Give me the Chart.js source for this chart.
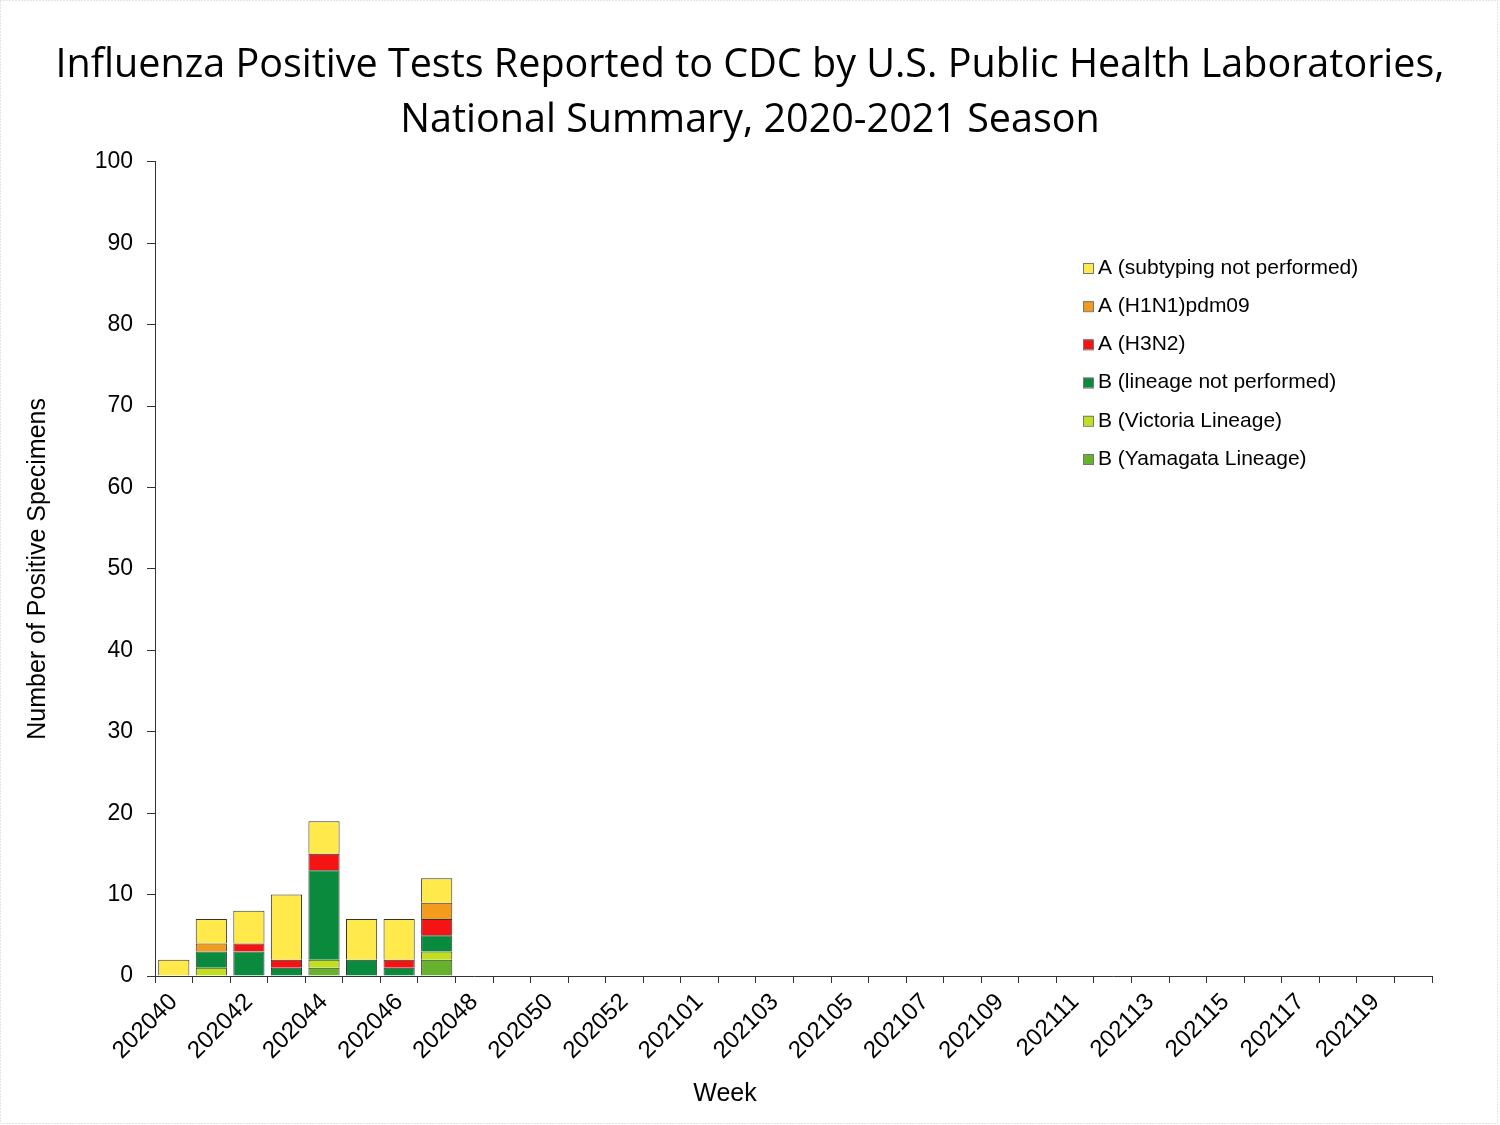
<!DOCTYPE html>
<html>
<head>
<meta charset="utf-8">
<script src="https://cdn.jsdelivr.net/npm/chart.js@4"></script>
<style>
  html, body { margin: 0; padding: 0; background: #fff; }
  #wrap { width: 1500px; height: 1125px; }
</style>
</head>
<body>
<div id="wrap"><canvas id="myChart" width="1500" height="1125"></canvas></div>
<script>
// weeks 202040 .. 202053, 202101 .. 202120
var weeks = ['202040','202041','202042','202043','202044','202045','202046','202047','202048','202049','202050','202051','202052','202053',
             '202101','202102','202103','202104','202105','202106','202107','202108','202109','202110','202111','202112','202113','202114',
             '202115','202116','202117','202118','202119','202120'];

// counts per week (only the first 8 weeks reported so far)
var yamagata    = [0, 0, 0, 0, 1, 0, 0, 2];
var victoria    = [0, 1, 0, 0, 1, 0, 0, 1];
var bNotDone    = [0, 2, 3, 1, 11, 2, 1, 2];
var h3n2        = [0, 0, 1, 1, 2, 0, 1, 2];
var h1n1pdm09   = [0, 1, 0, 0, 0, 0, 0, 2];
var aNotSubtyped = [2, 3, 4, 8, 4, 5, 5, 3];

var yTicks = [0, 10, 20, 30, 40, 50, 60, 70, 80, 90, 100];

var series = [
    { label: 'B (Yamagata Lineage)', data: yamagata, color: '#66b22c' },
    { label: 'B (Victoria Lineage)', data: victoria, color: '#c2df1f' },
    { label: 'B (lineage not performed)', data: bNotDone, color: '#0a8a3c' },
    { label: 'A (H3N2)', data: h3n2, color: '#f51414' },
    { label: 'A (H1N1)pdm09', data: h1n1pdm09, color: '#f29b1d' },
    { label: 'A (subtyping not performed)', data: aNotSubtyped, color: '#ffe94b' }
];

var font = '"Liberation Sans", Arial, sans-serif';

var extras = {
    id: 'extras',
    afterDraw: function (chart) {
        var ctx = chart.ctx;
        ctx.save();
        // dotted frame round the picture
        ctx.strokeStyle = '#c8c8c8';
        ctx.setLineDash([1, 2]);
        ctx.lineWidth = 1;
        ctx.strokeRect(0.5, 0.5, 1497, 1123);
        ctx.setLineDash([]);
        // x axis title sits left of the plot centre in the original
        ctx.fillStyle = '#000';
        ctx.font = '25px ' + font;
        ctx.textAlign = 'center';
        ctx.textBaseline = 'middle';
        ctx.fillText('Week', 725, 1094);
        // legend, top entry is the last dataset
        var ds = chart.data.datasets.slice().reverse();
        ctx.font = '21px ' + font;
        ctx.textAlign = 'left';
        ds.forEach(function (d, i) {
            var y = 268 + i * 38.2;
            ctx.fillStyle = d.backgroundColor;
            ctx.fillRect(1083, y - 5, 10, 10);
            ctx.strokeStyle = '#777';
            ctx.strokeRect(1083.5, y - 4.5, 10, 10);
            ctx.fillStyle = '#000';
            ctx.fillText(d.label, 1098, y);
        });
        ctx.restore();
    }
};

var ctx = document.getElementById('myChart').getContext('2d');
new Chart(ctx, {
    type: 'bar',
    data: {
        labels: weeks,
        datasets: series.map(s => ({
            label: s.label,
            data: s.data,
            backgroundColor: s.color,
            borderColor: '#333',
            borderWidth: 1,
            barPercentage: 0.83,
            categoryPercentage: 1.0
        }))
    },
    options: {
        responsive: false,
        animation: false,
        layout: { padding: 0 },
        plugins: {
            legend: { display: false },
            tooltip: { enabled: false },
            title: {
                display: true,
                text: ['Influenza Positive Tests Reported to CDC by U.S. Public Health Laboratories,', 'National Summary, 2020-2021 Season'],
                color: '#000',
                font: { family: '"Open Sans", "Noto Sans", sans-serif', size: 39.5, weight: 'normal', lineHeight: 1.39 },
                padding: { top: 38, bottom: 14 }
            }
        },
        scales: {
            x: {
                stacked: true,
                border: { color: '#333', width: 1 },
                grid: { display: true, drawOnChartArea: false, drawTicks: true, tickLength: 7, color: '#333', offset: true },
                ticks: {
                    autoSkip: false,
                    maxRotation: 45,
                    minRotation: 45,
                    color: '#000',
                    padding: 5,
                    font: { family: font, size: 24 },
                    callback: function (v, i) { return i % 2 === 0 ? weeks[i] : ''; }
                },
                afterFit: function (scale) { scale.height = 149; }
            },
            y: {
                stacked: true,
                min: 0,
                max: 100,
                border: { color: '#333', width: 1 },
                grid: { display: true, drawOnChartArea: false, drawTicks: true, tickLength: 8, color: '#333' },
                afterBuildTicks: function (scale) { scale.ticks = yTicks.map(v => ({ value: v })); },
                ticks: {
                    color: '#000',
                    padding: 14,
                    font: { family: font, size: 23 }
                },
                title: {
                    display: true,
                    text: 'Number of Positive Specimens',
                    color: '#000',
                    font: { family: font, size: 25 },
                    padding: { top: 23, bottom: 0 }
                },
                afterFit: function (scale) { scale.width = 155; }
            },
            // empty right-hand axis, only keeps the plot clear of the right edge
            spacer: {
                type: 'linear',
                position: 'right',
                display: true,
                grid: { display: false },
                border: { display: false },
                ticks: { display: false },
                afterFit: function (scale) { scale.width = 68; }
            }
        }
    },
    plugins: [extras]
});
</script>
</body>
</html>
